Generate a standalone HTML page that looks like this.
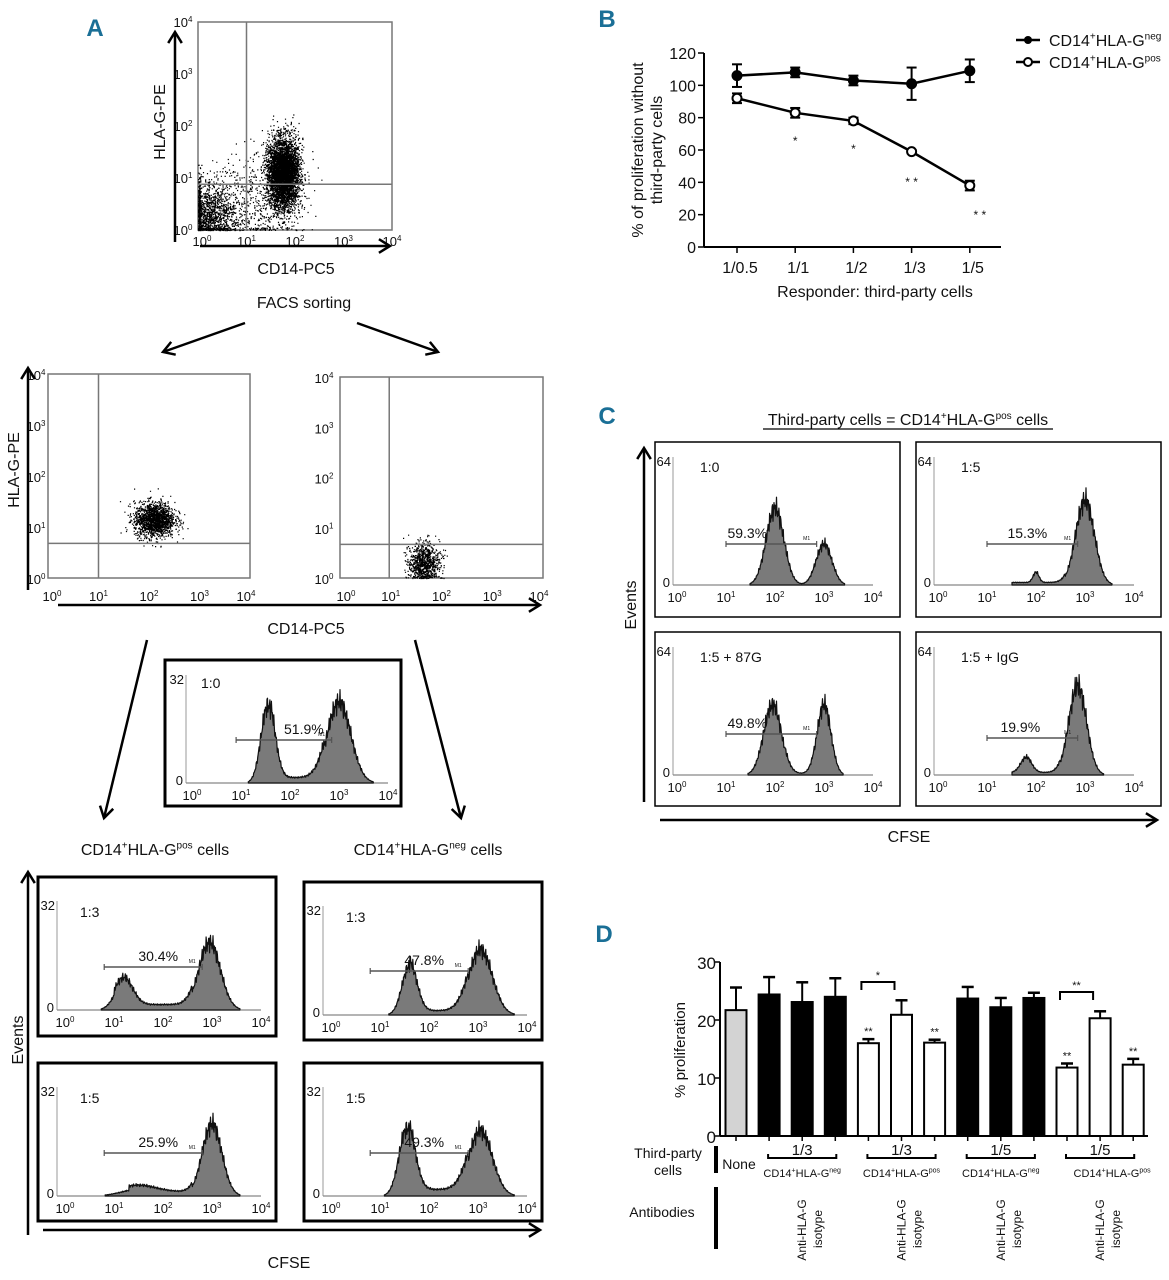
<!DOCTYPE html>
<html><head><meta charset="utf-8">
<style>
html,body{margin:0;padding:0;background:#fff;}
svg{display:block;}
text{font-family:"Liberation Sans Narrow","Liberation Sans",sans-serif;fill:#111;}
.lt{font-family:"Liberation Sans",sans-serif;font-weight:bold;fill:#1a6f96;}
</style></head>
<body>
<svg id="fig" width="1169" height="1280" viewBox="0 0 1169 1280" xmlns="http://www.w3.org/2000/svg">
<text class="lt" x="95" y="36" font-size="24" text-anchor="middle">A</text>
<text class="lt" x="607" y="27" font-size="24" text-anchor="middle">B</text>
<text class="lt" x="607" y="424" font-size="24" text-anchor="middle">C</text>
<text class="lt" x="604" y="942" font-size="24" text-anchor="middle">D</text>
</svg>
<script>
// ---------- Panel B data ----------
const B_cats=['1/0.5','1/1','1/2','1/3','1/5'];
const B_neg=[106,108,103,101,109];
const B_negErr=[7,3,3,10,7];
const B_pos=[92,83,78,59,38];
const B_posErr=[3,3,2,1,3];
const B_stars=['','*','*','**','**'];
const B_yticks=[0,20,40,60,80,100,120];
// ---------- Panel D data ----------
const D_vals=[21.7,24.4,23.1,24.0,16.0,20.9,16.1,23.7,22.2,23.8,11.8,20.3,12.3];
const D_errs=[3.9,3.0,3.4,3.2,0.7,2.5,0.5,2.0,1.6,0.9,0.7,1.2,1.0];
const D_kind=['none','neg','neg','neg','pos','pos','pos','neg','neg','neg','pos','pos','pos'];
const D_stars=['','','','','**','','**','','','','**','','**'];
const D_yticks=[0,10,20,30];
// ---------- Histogram peak data (log10 position, relative height, width) ----------
const H_A_mid_pos=[1.55,3.0], H_A_mid_amp=[0.72,0.75], H_A_mid_sd=[0.14,0.24];
const H_A13p_pos=[1.2,2.95], H_A13p_amp=[0.25,0.62], H_A13p_sd=[0.18,0.22];
const H_A13n_pos=[1.6,3.05], H_A13n_amp=[0.45,0.6], H_A13n_sd=[0.15,0.24];
const H_A15p_pos=[1.5,3.0], H_A15p_amp=[0.06,0.66], H_A15p_sd=[0.35,0.2];
const H_A15n_pos=[1.55,3.05], H_A15n_amp=[0.62,0.6], H_A15n_sd=[0.16,0.24];
const H_C10_pos=[2.0,3.0], H_C10_amp=[0.6,0.32], H_C10_sd=[0.18,0.16];
const H_C15_pos=[2.0,3.0], H_C15_amp=[0.08,0.66], H_C15_sd=[0.06,0.19];
const H_C87_pos=[1.95,3.0], H_C87_amp=[0.55,0.55], H_C87_sd=[0.18,0.14];
const H_CIg_pos=[1.8,2.85], H_CIg_amp=[0.12,0.7], H_CIg_sd=[0.11,0.18];
// ---------- Dot-plot cluster data (log10 centres, spreads, counts) ----------
const DP_top_cx=[1.75,0.2,1.2], DP_top_cy=[1.1,0.3,0.6], DP_top_sx=[0.16,0.3,0.5], DP_top_sy=[0.33,0.3,0.45], DP_top_n=[4500,1400,600];
const DP_pos_cx=[2.1], DP_pos_cy=[1.15], DP_pos_sx=[0.2], DP_pos_sy=[0.17], DP_pos_n=[1600];
const DP_neg_cx=[1.65], DP_neg_cy=[0.3], DP_neg_sx=[0.15], DP_neg_sy=[0.2], DP_neg_n=[900];

const NS='http://www.w3.org/2000/svg';
const svg=document.getElementById('fig');
function mk(tag,attrs,name,parent){
  const e=document.createElementNS(NS,tag);
  for(const k in attrs) e.setAttribute(k,attrs[k]);
  
  
  (parent||svg).appendChild(e);
  return e;
}
function txt(x,y,s,size,anchor,name,parent){
  const t=mk('text',{x:x,y:y,'font-size':size,'text-anchor':anchor||'start'},name,parent);
  t.textContent=s; return t;
}
function supTxt(x,y,base,sup,after,size,anchor,name,parent){
  const t=mk('text',{x:x,y:y,'font-size':size,'text-anchor':anchor||'start'},name,parent);
  t.appendChild(document.createTextNode(base));
  const s=document.createElementNS(NS,'tspan');
  s.setAttribute('font-size',Math.round(size*0.6));
  s.setAttribute('dy',-size*0.4);
  s.textContent=sup; t.appendChild(s);
  if(after){const a=document.createElementNS(NS,'tspan');a.setAttribute('dy',size*0.4);a.textContent=after;t.appendChild(a);}
  return t;
}
function cdLabel(x,y,g,tail,size,anchor,name){
  const t=mk('text',{x:x,y:y,'font-size':size,'text-anchor':anchor||'start'},name);
  const parts=[['CD14',0],['+',1],['HLA-G',0],[g,1],[tail,0]];
  let lvl=0;
  parts.forEach(p=>{ if(!p[0])return;
    const s=document.createElementNS(NS,'tspan');
    const target=p[1]?-size*0.4:0; s.setAttribute('dy',target-lvl); lvl=target;
    if(p[1]) s.setAttribute('font-size',Math.round(size*0.6));
    s.textContent=p[0]; t.appendChild(s);});
  return t;
}
function line(x1,y1,x2,y2,w,col,name){return mk('line',{x1:x1,y1:y1,x2:x2,y2:y2,stroke:col||'#000','stroke-width':w||1},name);}
function arrow(x1,y1,x2,y2,w,name){
  const g=mk('g',{},name);
  const e=document.createElementNS(NS,'line');
  e.setAttribute('x1',x1);e.setAttribute('y1',y1);e.setAttribute('x2',x2);e.setAttribute('y2',y2);
  e.setAttribute('stroke','#000');e.setAttribute('stroke-width',w);g.appendChild(e);
  const a=Math.atan2(y2-y1,x2-x1),L=13,sp=0.55;
  const p=document.createElementNS(NS,'polyline');
  p.setAttribute('points',`${x2-L*Math.cos(a-sp)},${y2-L*Math.sin(a-sp)} ${x2},${y2} ${x2-L*Math.cos(a+sp)},${y2-L*Math.sin(a+sp)}`);
  p.setAttribute('fill','none');p.setAttribute('stroke','#000');p.setAttribute('stroke-width',w);g.appendChild(p);
  return g;
}
let seed=12345;
function rnd(){seed=(seed*1103515245+12345)%2147483648;return seed/2147483648;}
function gauss(){let u=rnd()||1e-6,v=rnd();return Math.sqrt(-2*Math.log(u))*Math.cos(2*Math.PI*v);}

function dotPlot(name,x0,y0,w,h,cx,cy,sx,sy,n,qx,qy){
  const g=mk('g',{},name);
  mk('rect',{x:x0,y:y0,width:w,height:h,fill:'none',stroke:'#777','stroke-width':1.5},name+'-frame',g);
  const X=l=>x0+l/4*w, Y=l=>y0+h-l/4*h;
  let d='';
  for(let c=0;c<cx.length;c++){
    for(let i=0;i<n[c];i++){
      let lx=cx[c]+sx[c]*gauss(), ly=cy[c]+sy[c]*gauss();
      if(lx<0)lx=rnd()*0.05; if(ly<0)ly=rnd()*0.05;
      if(lx>4||ly>4)continue;
      d+=`M${X(lx).toFixed(1)} ${Y(ly).toFixed(1)}h1.2v1.2h-1.2z`;
    }
  }
  mk('path',{d:d,fill:'#000','fill-opacity':1},name+'-events',g);
  mk('line',{x1:X(qx),y1:y0,x2:X(qx),y2:y0+h,stroke:'#777','stroke-width':1.5},name+'-quadrant-v',g);
  mk('line',{x1:x0,y1:Y(qy),x2:x0+w,y2:Y(qy),stroke:'#777','stroke-width':1.5},name+'-quadrant-h',g);
  return {X,Y};
}
const tp=dotPlot('facs-plot-presort',198,22,194,208,DP_top_cx,DP_top_cy,DP_top_sx,DP_top_sy,DP_top_n,1.0,0.88);
for(let i=0;i<=4;i++){
  supTxt(tp.X(i)+(i==0?4:0),246,'10',String(i),'',13,'middle','presort-x-tick-'+i);
  supTxt(183,tp.Y(i)+5,'10',String(i),'',13,'middle','presort-y-tick-'+i);
}
arrow(175,242,175,32,2.5,'presort-y-arrow');
arrow(200,246,390,246,2.5,'presort-x-arrow');
txt(0,0,'HLA-G-PE',16,'middle','presort-y-title').setAttribute('transform','translate(165,122) rotate(-90)');
txt(296,274,'CD14-PC5',16,'middle','presort-x-title');
txt(304,308,'FACS sorting',16,'middle','facs-sorting-label');
arrow(245,323,163,352,2.5,'sort-arrow-left');
arrow(357,323,438,352,2.5,'sort-arrow-right');

const lp=dotPlot('facs-plot-hlag-pos',48,374,202,204,DP_pos_cx,DP_pos_cy,DP_pos_sx,DP_pos_sy,DP_pos_n,1.0,0.68);
const rp=dotPlot('facs-plot-hlag-neg',340,377,203,201,DP_neg_cx,DP_neg_cy,DP_neg_sx,DP_neg_sy,DP_neg_n,0.97,0.67);
for(let i=0;i<=4;i++){
  supTxt(lp.X(i)+(i==0?4:0)-(i==4?4:0),601,'10',String(i),'',13,'middle','pos-x-tick-'+i);
  supTxt(36,lp.Y(i)+6,'10',String(i),'',13,'middle','pos-y-tick-'+i);
  supTxt(rp.X(i)+(i==0?6:0)-(i==4?4:0),601,'10',String(i),'',13,'middle','neg-x-tick-'+i);
  supTxt(324,rp.Y(i)+6,'10',String(i),'',13,'middle','neg-y-tick-'+i);
}
arrow(28,590,28,368,2.5,'sorted-y-arrow');
arrow(58,605,540,605,2.5,'sorted-x-arrow');
txt(0,0,'HLA-G-PE',16,'middle','sorted-y-title').setAttribute('transform','translate(19,470) rotate(-90)');
txt(306,634,'CD14-PC5',16,'middle','sorted-x-title');
arrow(147,640,104,818,2.5,'culture-arrow-left');
arrow(415,640,461,818,2.5,'culture-arrow-right');
cdLabel(155,855,'pos',' cells',16,'middle','hlag-pos-cells-label');
cdLabel(428,855,'neg',' cells',16,'middle','hlag-neg-cells-label');

function hist(name,bx,by,bw,bh,cfg,pos,amp,sd,flat,ratio,pct,m1){
  const g=mk('g',{},name);
  mk('rect',{x:bx,y:by,width:bw,height:bh,fill:'#fff',stroke:'#000','stroke-width':cfg.border},name+'-frame',g);
  const X=l=>bx+cfg.l0+l*cfg.dec, Y=f=>by+cfg.base-f*(cfg.base-cfg.top);
  mk('line',{x1:bx+cfg.axis,y1:by+cfg.top,x2:bx+cfg.axis,y2:by+cfg.base,stroke:'#999','stroke-width':1},name+'-y-axis',g);
  mk('line',{x1:bx+cfg.axis,y1:by+cfg.base,x2:X(4),y2:by+cfg.base,stroke:'#888','stroke-width':1.2},name+'-x-axis',g);
  let pts=[];
  for(let i=0;i<=400;i++){
    const l=i/100;let f=0;
    for(let k=0;k<pos.length;k++) f+=amp[k]*Math.exp(-0.5*Math.pow((l-pos[k])/sd[k],2));
    if(l>flat[1]&&l<flat[2]) f+=flat[0];
    f*=1+0.16*Math.sin(i*2.7)*Math.cos(i*1.3);
    pts.push([X(l),Y(Math.max(0,f)),f]);
  }
  let first=pts.findIndex(p=>p[2]>0.01), last=pts.length-1-[...pts].reverse().findIndex(p=>p[2]>0.01);
  let d=`M${pts[first][0]} ${Y(0)}`;
  for(let i=first;i<=last;i++) d+=`L${pts[i][0].toFixed(1)} ${pts[i][1].toFixed(1)}`;
  d+=`L${pts[last][0]} ${Y(0)}Z`;
  mk('path',{d:d,fill:'#7a7a7a',stroke:'#111','stroke-width':1.2,'stroke-linejoin':'round'},name+'-histogram',g);
  for(let i=0;i<=4;i++) supTxt(X(i),by+cfg.tickY,'10',String(i),'',13,'middle',name+'-x-tick-'+i,g);
  txt(bx+cfg.axis-3,by+cfg.base+2,'0',13,'end',name+'-y-zero',g);
  txt(bx+cfg.axis-2,by+cfg.top+9,cfg.max,13,'end',name+'-y-max',g);
  txt(bx+cfg.rx,by+cfg.ry,ratio,14,'start',name+'-ratio',g);
  const my=by+cfg.m1y;
  mk('line',{x1:X(m1[0]),y1:my,x2:X(m1[1]),y2:my,stroke:'#555','stroke-width':1.5},name+'-m1-gate',g);
  mk('line',{x1:X(m1[0]),y1:my-3,x2:X(m1[0]),y2:my+3,stroke:'#555','stroke-width':1.2},name+'-m1-tick-l',g);
  mk('line',{x1:X(m1[1]),y1:my-3,x2:X(m1[1]),y2:my+3,stroke:'#555','stroke-width':1.2},name+'-m1-tick-r',g);
  txt(X(m1[1])-10,my-4,'M1',5,'middle',name+'-m1-label',g);
  txt(X((m1[0]+m1[1])/2)+cfg.pdx,my-6,pct,14,'middle',name+'-percent',g);
}
const cfgAmid={border:3,axis:21,l0:27,dec:49,base:123,top:15,tickY:140,max:'32',rx:36,ry:28,m1y:80,pdx:20};
const cfgAbot={border:3,axis:19,l0:27,dec:49,base:133,top:24,tickY:150,max:'32',rx:42,ry:40,m1y:90,pdx:5};
const cfgC={border:1.5,axis:18,l0:22,dec:49,base:143,top:15,tickY:160,max:'64',rx:45,ry:30,m1y:102,pdx:-24};
hist('hist-a-1-0',165,660,236,146,cfgAmid,H_A_mid_pos,H_A_mid_amp,H_A_mid_sd,[0.05,1.6,2.7],'1:0','51.9%',[0.9,2.85]);
hist('hist-a-pos-1-3',38,877,238,159,cfgAbot,H_A13p_pos,H_A13p_amp,H_A13p_sd,[0.05,1.0,2.6],'1:3','30.4%',[0.8,2.8]);
hist('hist-a-neg-1-3',304,882,238,158,Object.assign({},cfgAbot,{m1y:89}),H_A13n_pos,H_A13n_amp,H_A13n_sd,[0.04,1.6,2.8],'1:3','47.8%',[0.8,2.8]);
hist('hist-a-pos-1-5',38,1063,238,158,cfgAbot,H_A15p_pos,H_A15p_amp,H_A15p_sd,[0.04,1.3,2.6],'1:5','25.9%',[0.8,2.8]);
hist('hist-a-neg-1-5',304,1063,238,158,cfgAbot,H_A15n_pos,H_A15n_amp,H_A15n_sd,[0.06,1.6,2.8],'1:5','49.3%',[0.8,2.8]);
arrow(28,1235,28,872,2.5,'a-events-arrow');
arrow(43,1230,540,1230,2.5,'a-cfse-arrow');
txt(0,0,'Events',16,'middle','a-events-title').setAttribute('transform','translate(23,1040) rotate(-90)');
txt(289,1268,'CFSE',16,'middle','a-cfse-title');

const ctt=mk('text',{x:908,y:425,'font-size':16,'text-anchor':'middle'},'c-title');
[['Third-party cells = CD14',0],['+',1],['HLA-G',0],['pos',1],[' cells',0]].reduce((lvl,p)=>{const s=document.createElementNS(NS,'tspan');const t=p[1]?-6:0;s.setAttribute('dy',t-lvl);if(p[1])s.setAttribute('font-size',10);s.textContent=p[0];ctt.appendChild(s);return t;},0);
line(763,429,1053,429,1.3,'#000','c-title-underline');
hist('hist-c-1-0',655,442,245,175,cfgC,H_C10_pos,H_C10_amp,H_C10_sd,[0,0,0],'1:0','59.3%',[1.0,2.85]);
hist('hist-c-1-5',916,442,245,175,Object.assign({},cfgC,{pdx:-5}),H_C15_pos,H_C15_amp,H_C15_sd,[0.02,1.5,2.6],'1:5','15.3%',[1.0,2.85]);
hist('hist-c-1-5-87g',655,632,245,174,cfgC,H_C87_pos,H_C87_amp,H_C87_sd,[0.01,2.2,2.8],'1:5 + 87G','49.8%',[1.0,2.85]);
hist('hist-c-1-5-igg',916,632,245,174,Object.assign({},cfgC,{m1y:106,pdx:-12}),H_CIg_pos,H_CIg_amp,H_CIg_sd,[0.02,1.5,2.5],'1:5 + IgG','19.9%',[1.0,2.85]);
arrow(644,802,644,448,2.5,'c-events-arrow');
arrow(660,820,1157,820,2.5,'c-cfse-arrow');
txt(0,0,'Events',16,'middle','c-events-title').setAttribute('transform','translate(636,605) rotate(-90)');
txt(909,842,'CFSE',16,'middle','c-cfse-title');

const xB=i=>737+i*58.2, yB=v=>247-v*(194/120);
line(704,yB(0),1001,yB(0),2,'#000','b-x-axis');
line(704,yB(0),704,yB(120),2,'#000','b-y-axis');
B_yticks.forEach(v=>{line(698,yB(v),704,yB(v),1.5,'#000','b-y-tick');txt(696,yB(v)+6,String(v),16,'end','b-y-tick-label');});
B_cats.forEach((c,i)=>{line(xB(i),yB(0),xB(i),yB(0)+6,1.5,'#000','b-x-tick');txt(xB(i)+3,273,c,16,'middle','b-x-tick-label');});
txt(875,297,'Responder: third-party cells',16,'middle','b-x-title');
const byt=mk('text',{'font-size':16,'text-anchor':'middle',transform:'translate(643,150) rotate(-90)'},'b-y-title');
byt.innerHTML='<tspan x="0" dy="0">% of proliferation without</tspan><tspan x="0" dy="19">third-party cells</tspan>';
function series(vals,errs,open,name){
  let d='';vals.forEach((v,i)=>{d+=(i?'L':'M')+xB(i)+' '+yB(v);});
  mk('path',{d:d,fill:'none',stroke:'#000','stroke-width':2.5},name+'-line');
  vals.forEach((v,i)=>{
    const x=xB(i);
    line(x,yB(v-errs[i]),x,yB(v+errs[i]),2,'#000',name+'-errorbar');
    line(x-5,yB(v+errs[i]),x+5,yB(v+errs[i]),2,'#000',name+'-errorcap-top');
    line(x-5,yB(v-errs[i]),x+5,yB(v-errs[i]),2,'#000',name+'-errorcap-bottom');
    mk('circle',{cx:x,cy:yB(v),r:4.5,fill:open?'#fff':'#000',stroke:'#000','stroke-width':2},name+'-point');
  });
}
series(B_neg,B_negErr,false,'b-hlag-neg');
series(B_pos,B_posErr,true,'b-hlag-pos');
const starY=[0,137,145,178,211];
B_stars.forEach((s,i)=>{if(s)txt(xB(i)+(i==4?10:0),starY[i]+8,s.split('').join(' '),12,'middle','b-significance').setAttribute('fill','#555');});
line(1016,40,1040,40,2.5,'#000','b-legend-neg-line');mk('circle',{cx:1028,cy:40,r:4,fill:'#000'},'b-legend-neg-marker');
line(1016,62,1040,62,2.5,'#000','b-legend-pos-line');mk('circle',{cx:1028,cy:62,r:4,fill:'#fff',stroke:'#000','stroke-width':2},'b-legend-pos-marker');
cdLabel(1049,46,'neg','',16,'start','b-legend-neg-label');
cdLabel(1049,68,'pos','',16,'start','b-legend-pos-label');

const xD=i=>736+i*33.1, yD=v=>1136-v*5.8, bwD=21;
line(720,yD(0),1148,yD(0),2,'#000','d-x-axis');
line(720,yD(0),720,yD(30),2,'#000','d-y-axis');
D_yticks.forEach(v=>{line(714,yD(v),720,yD(v),1.5,'#000','d-y-tick');txt(716,yD(v)+7,String(v),17,'end','d-y-tick-label');});
txt(0,0,'% proliferation',15,'middle','d-y-title').setAttribute('transform','translate(685,1050) rotate(-90)');
D_vals.forEach((v,i)=>{
  const x=xD(i),f=D_kind[i]=='none'?'#d3d3d3':(D_kind[i]=='neg'?'#000':'#fff');
  line(x,yD(v),x,yD(v+D_errs[i]),2,'#000','d-errorbar');
  line(x-6,yD(v+D_errs[i]),x+6,yD(v+D_errs[i]),2.5,'#000','d-errorcap');
  mk('rect',{x:x-bwD/2,y:yD(v),width:bwD,height:yD(0)-yD(v),fill:f,stroke:'#000','stroke-width':2},'d-bar-'+i);
  line(x,yD(0),x,yD(0)+5,1.5,'#000','d-x-tick');
  if(D_stars[i]) txt(x,yD(v+D_errs[i])-4,D_stars[i],11,'middle','d-significance').setAttribute('fill','#777');
});
function bracket(i1,i2,y,s,name){
  mk('polyline',{points:`${xD(i1)-7},${y+8} ${xD(i1)-7},${y} ${xD(i2)-7},${y} ${xD(i2)-7},${y+8}`,fill:'none',stroke:'#000','stroke-width':2},name);
  txt((xD(i1)+xD(i2))/2-7,y-3,s,11,'middle',name+'-stars').setAttribute('fill','#666');
}
bracket(4,5,982,'*','d-bracket-1-3');
bracket(10,11,992,'**','d-bracket-1-5');
line(716,1146,716,1173,4,'#000','d-thirdparty-bar');
line(716,1187,716,1249,4,'#000','d-antibodies-bar');
txt(668,1158,'Third-party',14,'middle','d-thirdparty-label');
txt(668,1175,'cells',14,'middle','d-thirdparty-label-2');
txt(662,1217,'Antibodies',14,'middle','d-antibodies-label');
txt(739,1169,'None',14,'middle','d-none-label');
const groups=[[1,3,'1/3','neg'],[4,6,'1/3','pos'],[7,9,'1/5','neg'],[10,12,'1/5','pos']];
groups.forEach((gp,k)=>{
  const a=xD(gp[0])-1,b=xD(gp[1])+1,y=1158;
  mk('polyline',{points:`${a},${y-4} ${a},${y} ${b},${y} ${b},${y-4}`,fill:'none',stroke:'#000','stroke-width':2},'d-group-bracket-'+k);
  txt((a+b)/2,y-3,gp[2],15,'middle','d-group-ratio-'+k);
  cdLabel((a+b)/2+(k==3?12:0),1177,gp[3],'',11,'middle','d-group-celltype-'+k);
  const mx=(a+b)/2+2;
  txt(0,0,'Anti-HLA-G',12,'middle','d-antibody-anti-'+k).setAttribute('transform',`translate(${mx+2},1230) rotate(-90)`);
  txt(0,0,'isotype',12,'middle','d-antibody-isotype-'+k).setAttribute('transform',`translate(${mx+18},1229) rotate(-90)`);
});
</script>
</body></html>
